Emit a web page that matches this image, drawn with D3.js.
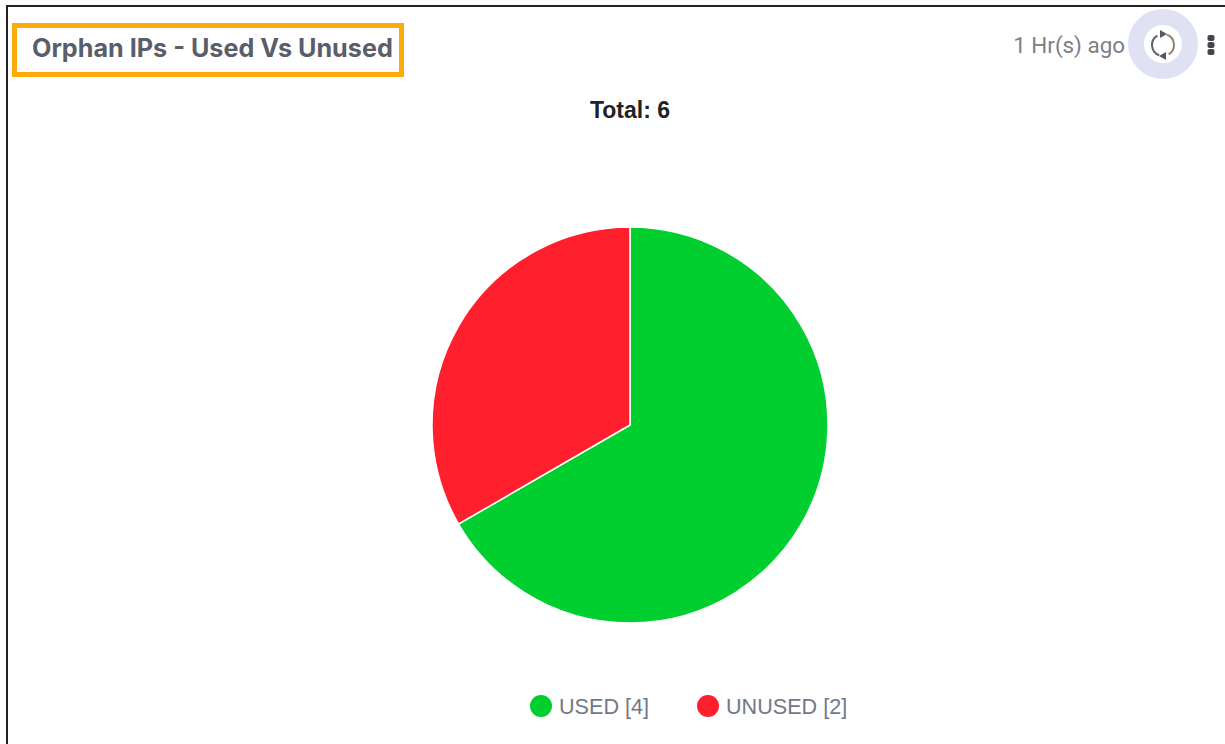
<!DOCTYPE html>
<html>
<head>
<meta charset="utf-8">
<script src="https://cdn.jsdelivr.net/npm/d3@7"></script>
<style>
  html, body { margin: 0; padding: 0; background: #fff; overflow: hidden; }
</style>
</head>
<body>
<div id="chart"></div>
<script>
const categories = ["USED", "UNUSED"];
const values = [4, 2];
const colors = ["#00cf2f", "#ff1f2d"];
const chartTitle = "Orphan IPs - Used Vs Unused";
const updatedText = "1 Hr(s) ago";

const width = 1225;
const height = 744;
const cx = 630;
const cy = 425;
const radius = 198;

const svg = d3.select("#chart")
  .append("svg")
    .attr("width", width)
    .attr("height", height)
    .style("display", "block");

// Panel edges
svg.append("line")
  .attr("x1", 7).attr("x2", width).attr("y1", 6).attr("y2", 6)
  .attr("stroke", "#222").attr("stroke-width", 2);
svg.append("line")
  .attr("x1", 7).attr("x2", 7).attr("y1", 5).attr("y2", height)
  .attr("stroke", "#222").attr("stroke-width", 2);

// Highlighted title
svg.append("rect")
  .attr("x", 14.5).attr("y", 25.5)
  .attr("width", 387).attr("height", 49)
  .attr("fill", "none")
  .attr("stroke", "#fcab0a")
  .attr("stroke-width", 5);

svg.append("text")
  .attr("x", 32).attr("y", 57)
  .attr("font-family", "Inter, 'Open Sans', sans-serif")
  .attr("font-size", 25.2)
  .attr("font-weight", 700)
  .attr("fill", "#5a5e6b")
  .text(chartTitle);

// Top right controls
svg.append("text")
  .attr("x", 1125).attr("y", 53)
  .attr("text-anchor", "end")
  .attr("font-family", "Roboto, sans-serif")
  .attr("font-size", 22.4)
  .attr("fill", "#7d8088")
  .text(updatedText);

svg.append("circle")
  .attr("cx", 1163).attr("cy", 44).attr("r", 27)
  .attr("fill", "#fff")
  .attr("stroke", "#e0e1f3")
  .attr("stroke-width", 16);

const refreshArc = d3.arc().innerRadius(10).outerRadius(12);
const refresh = svg.append("g").attr("transform", "translate(1163,45)");
[[0.35, 2.6], [3.5, 5.75]].forEach(([startAngle, endAngle], i) => {
  refresh.append("path")
    .attr("d", refreshArc({ startAngle, endAngle }))
    .attr("fill", i === 0 ? "#8a7f68" : "#5c6068");
});
refresh.append("path").attr("d", "M-3,-15L4,-11L-3,-7Z").attr("fill", "#55585f");
refresh.append("path").attr("d", "M3,15L-4,11L3,7Z").attr("fill", "#55585f");

svg.append("g").selectAll("rect")
  .data([38, 45, 52])
  .enter().append("rect")
    .attr("x", 1207.5)
    .attr("y", d => d - 3)
    .attr("width", 7)
    .attr("height", 6)
    .attr("rx", 2)
    .attr("fill", "#45464c");

svg.append("text")
  .attr("x", cx).attr("y", 118)
  .attr("text-anchor", "middle")
  .attr("font-family", "'Liberation Sans', Arial, sans-serif")
  .attr("font-size", 23)
  .attr("font-weight", 700)
  .attr("fill", "#222")
  .text("Total: " + d3.sum(values));

// Pie
const pie = d3.pie().sort(null);
const arc = d3.arc().innerRadius(0).outerRadius(radius);

svg.append("g")
  .attr("transform", `translate(${cx},${cy})`)
  .selectAll("path")
  .data(pie(values))
  .enter().append("path")
    .attr("d", arc)
    .attr("fill", (d, i) => colors[i])
    .attr("stroke", "#fff")
    .attr("stroke-width", 1.5);

// Legend
const legendX = [541, 708];
const legend = svg.append("g").selectAll("g")
  .data(categories)
  .enter().append("g")
    .attr("transform", (d, i) => `translate(${legendX[i]},706)`);

legend.append("circle")
  .attr("r", 11)
  .attr("fill", (d, i) => colors[i]);

legend.append("text")
  .attr("x", 18)
  .attr("y", 8)
  .attr("font-family", "'Liberation Sans', Arial, sans-serif")
  .attr("font-size", 21.6)
  .attr("fill", "#737887")
  .text((d, i) => `${d} [${values[i]}]`);
</script>
</body>
</html>
